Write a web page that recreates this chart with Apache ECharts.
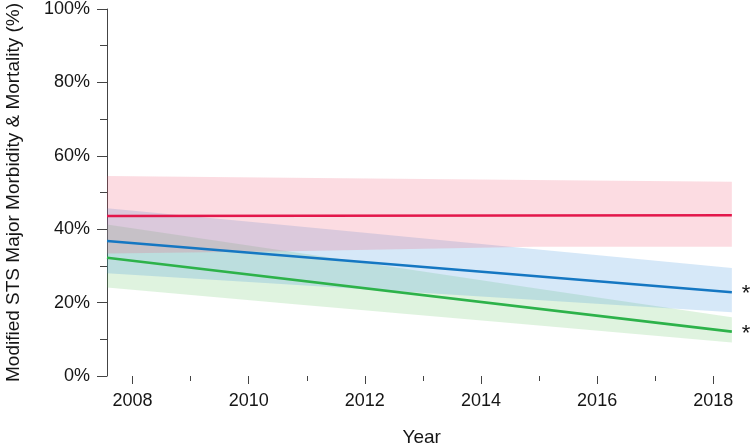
<!DOCTYPE html>
<html>
<head>
<meta charset="utf-8">
<style>
  html, body { margin: 0; padding: 0; background: #fff; }
  #chart { width: 750px; height: 445px; }
</style>
<script src="https://cdn.jsdelivr.net/npm/echarts@6/dist/echarts.min.js"></script>
</head>
<body>
<div id="chart"></div>
<script>
// ---- Data ----
const bandYears   = [2007.56, 2010.7, 2014.9, 2018.32];
const redLower    = [33.4, 34.0, 35.2, 35.2];
const redUpper    = [54.5, 54.0, 53.4, 52.9];
const blueLower   = [28.0, 24.9, 20.8, 17.4];
const blueUpper   = [45.7, 41.0, 34.6, 29.4];
const greenLower  = [24.1, 19.7, 13.9, 9.1];
const greenUpper  = [41.3, 33.9, 24.0, 16.0];

const lineYears   = [2007.56, 2018.32];
const redLine     = [43.6, 43.8];
const blueLine    = [36.8, 22.8];
const greenLine   = [32.2, 12.1];

const xMajorTicks = [2008, 2010, 2012, 2014, 2016, 2018];
const xMinorTicks = [2009, 2011, 2013, 2015, 2017];
const xMin = 2007.56, xMax = 2018.4;

const FONT = '"Liberation Sans", Arial, sans-serif';
const AXIS_COLOR = '#444';
const TEXT_COLOR = '#151515';

function band(name, lo, hi, color) {
  return {
    name: name + ' band', type: 'custom', data: [0], silent: true, z: 1,
    renderItem: function (params, api) {
      const top = bandYears.map((x, i) => api.coord([x, hi[i]]));
      const bottom = bandYears.map((x, i) => api.coord([x, lo[i]])).reverse();
      return {
        type: 'polygon',
        shape: { points: top.concat(bottom) },
        style: { fill: color }
      };
    }
  };
}

function line(name, ys, color, star) {
  return {
    name: name, type: 'line', data: lineYears.map((x, i) => [x, ys[i]]), symbol: 'none',
    lineStyle: { color: color, width: 2.6 }, z: 3, silent: true,
    endLabel: star ? {
      show: true, formatter: '*', distance: 10, offset: [0, 2],
      fontFamily: FONT, fontSize: 22, color: TEXT_COLOR
    } : { show: false }
  };
}

const chart = echarts.init(document.getElementById('chart'), null, { renderer: 'canvas' });
chart.setOption({
  animation: false,
  backgroundColor: '#fff',
  grid: { left: 107, right: 13.5, top: 9, bottom: 69, containLabel: false, outerBoundsMode: 'none' },
  xAxis: [
    {
      type: 'value', min: xMin, max: xMax, position: 'bottom',
      name: 'Year', nameLocation: 'middle', nameGap: 52,
      nameTextStyle: { fontFamily: FONT, fontSize: 19, color: TEXT_COLOR },
      axisLine: { show: false },
      axisTick: { show: true, length: 8, customValues: xMajorTicks, lineStyle: { color: AXIS_COLOR } },
      axisLabel: { show: true, customValues: xMajorTicks, margin: 16, fontFamily: FONT, fontSize: 18, color: TEXT_COLOR, formatter: v => String(v) },
      splitLine: { show: false }
    },
    {
      type: 'value', min: xMin, max: xMax, position: 'bottom',
      axisLine: { show: false },
      axisTick: { show: true, length: 5, customValues: xMinorTicks, lineStyle: { color: AXIS_COLOR } },
      axisLabel: { show: false },
      splitLine: { show: false }
    }
  ],
  yAxis: {
    type: 'value', min: 0, max: 100, interval: 20,
    name: 'Modified STS Major Morbidity & Mortality (%)', nameLocation: 'middle', nameGap: 84,
    nameTextStyle: { fontFamily: FONT, fontSize: 19, color: TEXT_COLOR },
    axisLine: { show: true, lineStyle: { color: AXIS_COLOR, width: 1 } },
    axisTick: { show: true, length: 10, lineStyle: { color: AXIS_COLOR } },
    minorTick: { show: true, splitNumber: 2, length: 7, lineStyle: { color: AXIS_COLOR } },
    axisLabel: { margin: 17, fontFamily: FONT, fontSize: 18, color: TEXT_COLOR, formatter: '{value}%' },
    splitLine: { show: false }, minorSplitLine: { show: false }
  },
  series: [
    band('green', greenLower, greenUpper, 'rgba(80,190,80,0.18)'),
    band('blue', blueLower, blueUpper, 'rgba(50,140,220,0.2)'),
    band('red', redLower, redUpper, 'rgba(240,80,110,0.2)'),
    line('red', redLine, '#e3174b', false),
    line('blue', blueLine, '#1577c2', true),
    line('green', greenLine, '#2db24a', true)
  ]
});
</script>
</body>
</html>
